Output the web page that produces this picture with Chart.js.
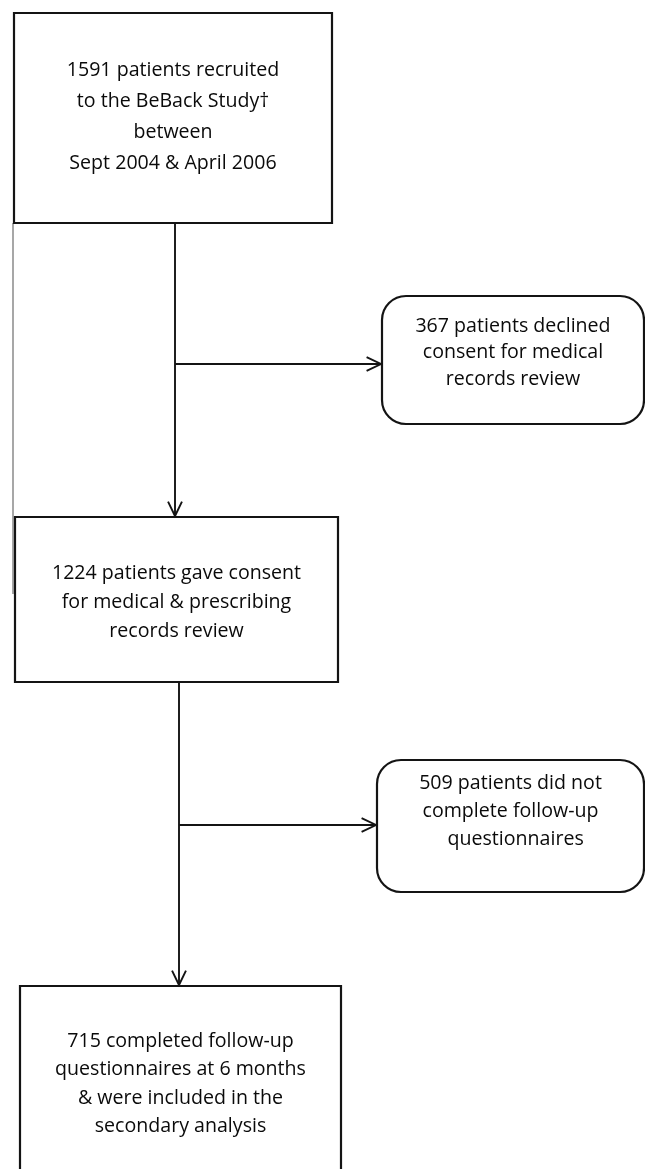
<!DOCTYPE html>
<html>
<head>
<meta charset="utf-8">
<script src="https://cdn.jsdelivr.net/npm/chart.js@4/dist/chart.umd.min.js"></script>
<style>
  html, body { margin: 0; padding: 0; background: #fff; }
  canvas { display: block; }
</style>
</head>
<body>
<canvas id="flujoChart" width="645" height="1169"></canvas>
<script>
// Datos del diagrama de flujo
const conteos = [1591, 367, 1224, 509, 715];
const textosCaja = [
    [conteos[0] + ' patients recruited', 'to the BeBack Study\u2020', 'between', 'Sept 2004 & April 2006'],
    [conteos[1] + ' patients declined', 'consent for medical', 'records review'],
    [conteos[2] + ' patients gave consent', 'for medical & prescribing', 'records review'],
    [conteos[3] + ' patients did not', 'complete follow-up', '  questionnaires'],
    [conteos[4] + ' completed follow-up', 'questionnaires at 6 months', '& were included in the', 'secondary analysis']
];

// Geometría (en unidades de la escala)
const cajas = [
    { x0: 14, y0: 13, x1: 332, y1: 223, r: 0, textY: 70, gap: 31.3 },
    { x0: 382, y0: 296, x1: 644, y1: 424, r: 24, textY: 326, gap: 26.5 },
    { x0: 15, y0: 517, x1: 338, y1: 682, r: 0, textY: 573, gap: 29 },
    { x0: 377, y0: 760, x1: 644, y1: 892, r: 24, textY: 783, gap: 28 },
    { x0: 20, y0: 986, x1: 341, y1: 1180, r: 0, textY: 1041, gap: 28.5 }
];
const flechas = [
    { x0: 175, y0: 223, x1: 175, y1: 516 },
    { x0: 175, y0: 364, x1: 381, y1: 364 },
    { x0: 179, y0: 682, x1: 179, y1: 985 },
    { x0: 179, y0: 825, x1: 376, y1: 825 }
];

const COLOR_LINEA = '#141414';
const FUENTE = '"Open Sans", Lato, sans-serif';

const pluginFlujo = {
    id: 'flujo',
    afterDraw(chart) {
        const ctx = chart.ctx;
        const sx = v => chart.scales.x.getPixelForValue(v);
        const sy = v => chart.scales.y.getPixelForValue(v);
        ctx.save();

        // borde gris del escaneo
        ctx.strokeStyle = '#8a8a8a';
        ctx.lineWidth = 1.5;
        ctx.beginPath();
        ctx.moveTo(sx(13), sy(223));
        ctx.lineTo(sx(13), sy(594));
        ctx.stroke();

        ctx.strokeStyle = COLOR_LINEA;
        ctx.lineWidth = 2.2;
        cajas.forEach((c, i) => {
            const x = sx(c.x0), y = sy(c.y0), w = sx(c.x1) - x, h = sy(c.y1) - y;
            ctx.beginPath();
            if (c.r > 0) ctx.roundRect(x, y, w, h, c.r);
            else ctx.rect(x, y, w, h);
            ctx.stroke();

            ctx.fillStyle = '#0a0a0a';
            ctx.font = '500 19.6px ' + FUENTE;
            ctx.textAlign = 'center';
            ctx.textBaseline = 'middle';
            const cx = x + w / 2;
            textosCaja[i].forEach((t, j) => {
                ctx.fillText(t, cx, sy(c.textY + j * c.gap));
            });
        });

        ctx.lineWidth = 1.9;
        flechas.forEach(f => {
            const x0 = sx(f.x0), y0 = sy(f.y0), x1 = sx(f.x1), y1 = sy(f.y1);
            ctx.beginPath();
            ctx.moveTo(x0, y0);
            ctx.lineTo(x1, y1);
            ctx.stroke();
            const ang = Math.atan2(y1 - y0, x1 - x0);
            const len = 16, ab = 0.45;
            ctx.beginPath();
            ctx.moveTo(x1 - len * Math.cos(ang - ab), y1 - len * Math.sin(ang - ab));
            ctx.lineTo(x1, y1);
            ctx.lineTo(x1 - len * Math.cos(ang + ab), y1 - len * Math.sin(ang + ab));
            ctx.stroke();
        });
        ctx.restore();
    }
};

document.addEventListener('DOMContentLoaded', function() {
    try {
        new Chart(document.getElementById('flujoChart').getContext('2d'), {
            type: 'scatter',
            data: { datasets: [{ data: [], pointRadius: 0 }] },
            options: {
                responsive: false,
                animation: false,
                layout: { padding: 0 },
                plugins: { legend: { display: false }, tooltip: { enabled: false } },
                scales: {
                    x: { type: 'linear', min: 0, max: 645, display: false },
                    y: { type: 'linear', min: 0, max: 1169, reverse: true, display: false }
                }
            },
            plugins: [pluginFlujo]
        });
    } catch (e) { console.error('Error en flujoChart:', e); }
});
</script>
</body>
</html>
